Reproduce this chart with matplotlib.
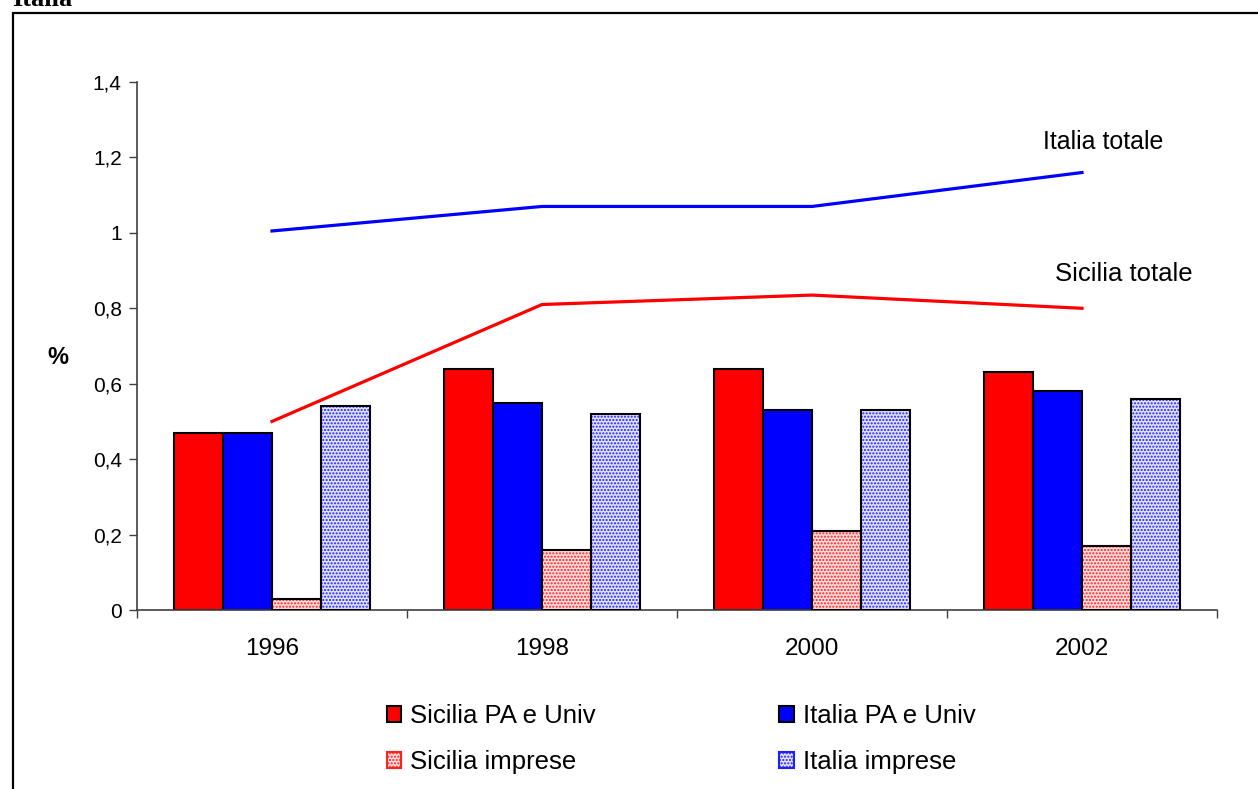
import matplotlib
matplotlib.use("Agg")
import matplotlib.pyplot as plt
import numpy as np
from matplotlib.patches import Rectangle, Patch

plt.rcParams['font.family'] = ['Liberation Sans', 'DejaVu Sans']

years = ['1996', '1998', '2000', '2002']
sic_pa = [0.47, 0.64, 0.64, 0.63]
ita_pa = [0.47, 0.55, 0.53, 0.58]
sic_imp = [0.03, 0.16, 0.21, 0.17]
ita_imp = [0.54, 0.52, 0.53, 0.56]
ita_tot = [1.005, 1.07, 1.07, 1.16]
sic_tot = [0.50, 0.81, 0.835, 0.80]
yticks = [0, 0.2, 0.4, 0.6, 0.8, 1.0, 1.2, 1.4]
ytick_labels = ['0', '0,2', '0,4', '0,6', '0,8', '1', '1,2', '1,4']

W, H = 1258, 789
fig = plt.figure(figsize=(W / 100, H / 100), dpi=100)
ax = fig.add_axes([137 / W, 1 - 610 / H, 1080 / W, 528 / H])

x = np.arange(len(years))
bw = 0.1815
offs = [-1.5 * bw, -0.5 * bw, 0.5 * bw, 1.5 * bw]

ax.bar(x + offs[0], sic_pa, bw, color='#ff0000', edgecolor='black', linewidth=1.5, zorder=2)
ax.bar(x + offs[1], ita_pa, bw, color='#0000ff', edgecolor='black', linewidth=1.5, zorder=2)
# hatched bars: dotted pattern in colour, then black outline
ax.bar(x + offs[2], sic_imp, bw, color='#ffdcdc', edgecolor='#ff2020', hatch='.....', linewidth=0, zorder=2)
ax.bar(x + offs[2], sic_imp, bw, fill=False, edgecolor='black', linewidth=1.5, zorder=3)
ax.bar(x + offs[3], ita_imp, bw, color='#e0e0ff', edgecolor='#2020ff', hatch='.....', linewidth=0, zorder=2)
ax.bar(x + offs[3], ita_imp, bw, fill=False, edgecolor='black', linewidth=1.5, zorder=3)

ax.plot(x, ita_tot, color='#0000ff', linewidth=2.3, zorder=4)
ax.plot(x, sic_tot, color='#ff0000', linewidth=2.3, zorder=4)

ax.text(x[-1] + 0.3, ita_tot[-1] + 0.08, 'Italia totale', fontsize=18, ha='right', va='center')
ax.text(x[-1] + 0.41, sic_tot[-1] + 0.09, 'Sicilia totale', fontsize=18.5, ha='right', va='center')

ax.set_xlim(-0.5, len(years) - 0.5)
ax.set_ylim(0, 1.4)
ax.set_yticks(yticks)
ax.set_yticklabels(ytick_labels, fontsize=15)
ax.set_xticks(x)
ax.set_xticklabels(years, fontsize=17.5)
ax.tick_params(axis='x', length=0, pad=20)
ax.set_xticks(np.arange(len(years) + 1) - 0.5, minor=True)
ax.tick_params(axis='x', which='minor', length=6, width=1, color='#404040', direction='out')
ax.tick_params(axis='y', length=6, width=1, color='#404040', direction='out', pad=5)
for s in ['top', 'right']:
    ax.spines[s].set_visible(False)
ax.spines['left'].set_color('#404040')
ax.spines['bottom'].set_color('#404040')
ax.spines['left'].set_linewidth(1.2)
ax.spines['bottom'].set_linewidth(1.2)

fig.text(58 / W, 1 - 358 / H, '%', fontsize=17, fontweight='bold', ha='center', va='center')

handles = [
    Patch(facecolor='#ff0000', edgecolor='black', linewidth=1.5),
    Patch(facecolor='#ffdcdc', edgecolor='#ff2020', hatch='.....', linewidth=1.5),
    Patch(facecolor='#0000ff', edgecolor='black', linewidth=1.5),
    Patch(facecolor='#e0e0ff', edgecolor='#2020ff', hatch='.....', linewidth=1.5),
]
labels = ['Sicilia PA e Univ', 'Sicilia imprese', 'Italia PA e Univ', 'Italia imprese']
fig.legend(handles, labels, ncol=2, frameon=False, fontsize=18.5,
           loc='center left', bbox_to_anchor=(387 / W, 1 - 739 / H),
           handlelength=0.55, handleheight=0.55, handletextpad=0.35,
           columnspacing=7.15, labelspacing=0.85, borderaxespad=0, borderpad=0)

# outer border
fig.patches.append(Rectangle((13 / W, -0.05), 1.2, 1 - 13 / H + 0.05, transform=fig.transFigure,
                             fill=False, edgecolor='black', linewidth=1.6))
fig.text(12 / W, 1 - 6 / H, 'Italia', fontsize=19, fontweight='bold',
         family='Liberation Serif', ha='left', va='baseline')

fig.savefig('out.png', dpi=100)
